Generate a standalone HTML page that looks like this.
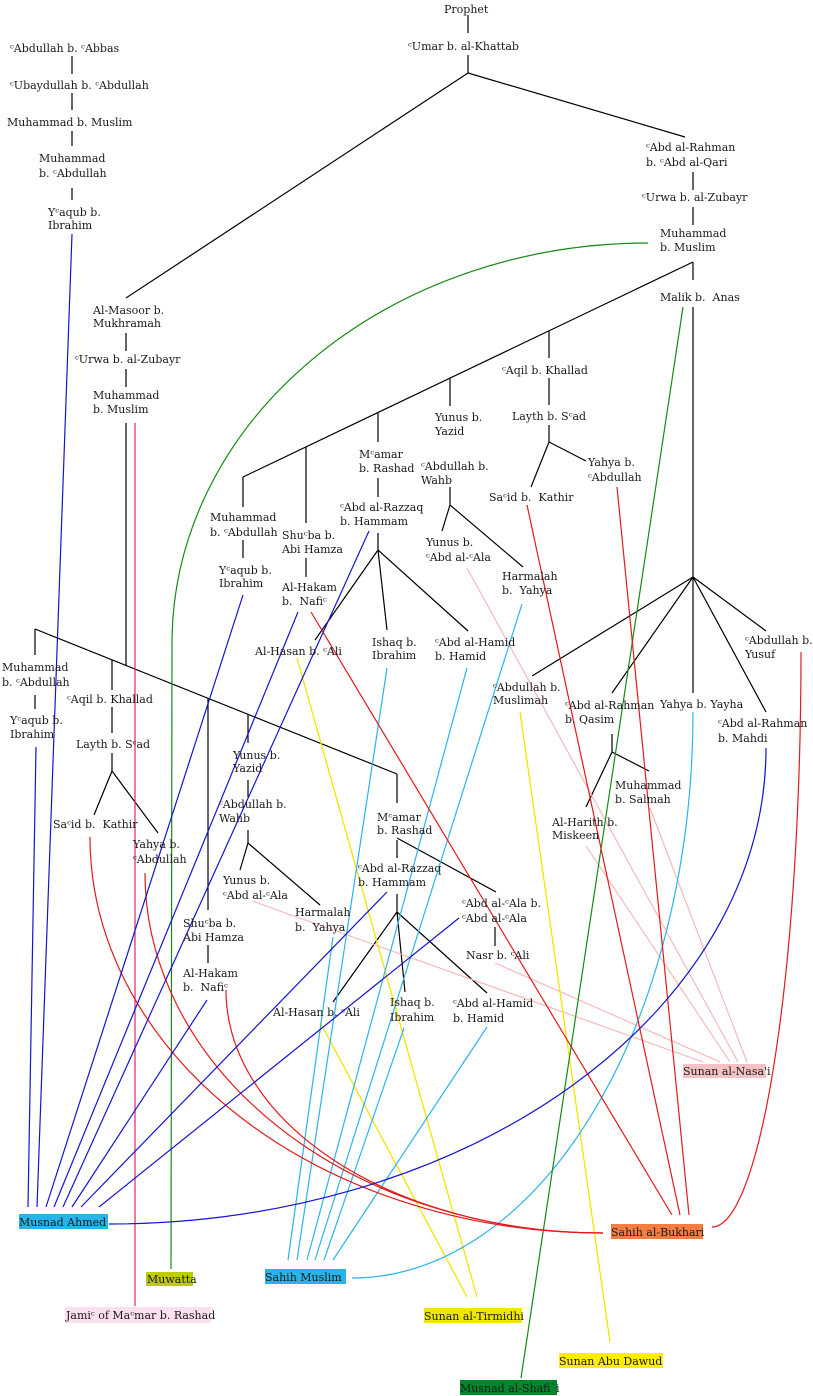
<!DOCTYPE html>
<html><head><meta charset="utf-8"><style>
html,body{margin:0;padding:0;background:#fff;}
svg{display:block;}
text{font-family:"DejaVu Serif","DejaVu Sans","Liberation Serif",serif;font-size:11px;fill:#1a1a1a;}
</style></head><body>
<svg width="813" height="1396" viewBox="0 0 813 1396" xmlns="http://www.w3.org/2000/svg">
<!-- boxes -->
<rect x="19" y="1214" width="89" height="15" fill="#27b4e8"/>
<rect x="146" y="1272" width="47" height="14" fill="#bccc00"/>
<rect x="65" y="1307" width="146" height="16" fill="#fde0ef"/>
<rect x="265" y="1269" width="81" height="15" fill="#27b4e8"/>
<rect x="424" y="1308" width="98" height="15" fill="#eee600"/>
<rect x="559" y="1353" width="104" height="15" fill="#ffee00"/>
<rect x="460" y="1380" width="97" height="15" fill="#00872e"/>
<rect x="611" y="1224" width="92" height="15" fill="#f57d40"/>
<rect x="683" y="1064" width="83" height="14" fill="#f4c2c2"/>

<!-- black tree lines -->
<g stroke="#000" stroke-width="1.2" fill="none">
<line x1="72" y1="56" x2="72" y2="74"/>
<line x1="72" y1="93" x2="72" y2="110"/>
<line x1="72" y1="131" x2="72" y2="146"/>
<line x1="72" y1="188" x2="72" y2="200"/>
<line x1="468" y1="15" x2="468" y2="33"/>
<line x1="468" y1="55" x2="468" y2="73"/>
<line x1="468" y1="73" x2="126" y2="298"/>
<line x1="468" y1="73" x2="685" y2="137"/>
<line x1="693" y1="172" x2="693" y2="190"/>
<line x1="693" y1="207" x2="693" y2="225"/>
<line x1="693" y1="262" x2="693" y2="280"/>
<line x1="693" y1="262" x2="243" y2="477"/>
<line x1="243" y1="477" x2="243" y2="507"/>
<line x1="306" y1="447" x2="306" y2="523"/>
<line x1="378" y1="413" x2="378" y2="442"/>
<line x1="450" y1="378" x2="450" y2="406"/>
<line x1="549" y1="331" x2="549" y2="358"/>
<line x1="549" y1="378" x2="549" y2="405"/>
<line x1="549" y1="425" x2="549" y2="442"/>
<line x1="549" y1="442" x2="531" y2="487"/>
<line x1="549" y1="442" x2="586" y2="461"/>
<line x1="693" y1="307" x2="693" y2="577"/>
<line x1="693" y1="577" x2="532" y2="676"/>
<line x1="693" y1="577" x2="612" y2="693"/>
<line x1="693" y1="577" x2="693" y2="693"/>
<line x1="693" y1="577" x2="766" y2="712"/>
<line x1="693" y1="577" x2="766" y2="631"/>
<line x1="612" y1="734" x2="612" y2="752"/>
<line x1="612" y1="752" x2="586" y2="807"/>
<line x1="612" y1="752" x2="649" y2="771"/>
<line x1="243" y1="540" x2="243" y2="558"/>
<line x1="306" y1="558" x2="306" y2="577"/>
<line x1="378" y1="478" x2="378" y2="497"/>
<line x1="378" y1="533" x2="378" y2="550"/>
<line x1="378" y1="550" x2="315" y2="640"/>
<line x1="378" y1="550" x2="387" y2="630"/>
<line x1="378" y1="550" x2="468" y2="631"/>
<line x1="450" y1="487" x2="450" y2="505"/>
<line x1="450" y1="505" x2="442" y2="531"/>
<line x1="450" y1="505" x2="523" y2="567"/>
<line x1="126" y1="333" x2="126" y2="351"/>
<line x1="126" y1="369" x2="126" y2="387"/>
<line x1="126" y1="423" x2="126" y2="666"/>
<line x1="35" y1="629" x2="397" y2="774"/>
<line x1="35" y1="629" x2="35" y2="655"/>
<line x1="35" y1="695" x2="35" y2="709"/>
<line x1="112" y1="660" x2="112" y2="690"/>
<line x1="112" y1="707" x2="112" y2="733"/>
<line x1="112" y1="753" x2="112" y2="771"/>
<line x1="112" y1="771" x2="94" y2="815"/>
<line x1="112" y1="771" x2="158" y2="833"/>
<line x1="208" y1="698" x2="208" y2="910"/>
<line x1="208" y1="945" x2="208" y2="963"/>
<line x1="248" y1="714" x2="248" y2="743"/>
<line x1="248" y1="780" x2="248" y2="797"/>
<line x1="248" y1="830" x2="248" y2="843"/>
<line x1="248" y1="843" x2="240" y2="870"/>
<line x1="248" y1="843" x2="320" y2="905"/>
<line x1="397" y1="774" x2="397" y2="803"/>
<line x1="397" y1="838" x2="496" y2="892"/>
<line x1="397" y1="840" x2="397" y2="858"/>
<line x1="397" y1="894" x2="397" y2="912"/>
<line x1="397" y1="912" x2="333" y2="1002"/>
<line x1="397" y1="912" x2="405" y2="992"/>
<line x1="397" y1="912" x2="487" y2="993"/>
<line x1="495" y1="927" x2="495" y2="946"/>
</g>

<!-- pink -->
<g stroke="#f5b5b5" stroke-width="1.1" fill="none">
<line x1="252" y1="901" x2="703" y2="1062"/>
<line x1="495" y1="963" x2="720" y2="1062"/>
<line x1="586" y1="846" x2="730" y2="1062"/>
<line x1="467" y1="568" x2="738" y2="1062"/>
<line x1="650" y1="808" x2="747" y2="1062"/>
</g>

<!-- yellow -->
<g stroke="#f5e400" stroke-width="1.3" fill="none">
<line x1="297" y1="658" x2="477" y2="1297"/>
<line x1="320" y1="1022" x2="467" y2="1297"/>
<line x1="520" y1="712" x2="610" y2="1342"/>
</g>

<!-- cyan -->
<g stroke="#2ab4ea" stroke-width="1.2" fill="none">
<line x1="333" y1="937" x2="288" y2="1260"/>
<line x1="387" y1="668" x2="297" y2="1260"/>
<line x1="467" y1="668" x2="307" y2="1260"/>
<line x1="522" y1="604" x2="315" y2="1260"/>
<line x1="404" y1="1028" x2="324" y2="1260"/>
<line x1="487" y1="1027" x2="333" y2="1260"/>
<path d="M693,712 A341,566 0 0 1 352,1278"/>
</g>

<!-- green -->
<g stroke="#168a16" stroke-width="1.2" fill="none">
<line x1="683" y1="307" x2="521" y2="1378"/>
<path d="M648,243 A476,400 0 0 0 172,643 L171,1269"/>
</g>

<!-- magenta -->
<line x1="135" y1="423" x2="135" y2="1306" stroke="#d0287a" stroke-width="1.2"/>

<!-- red -->
<g stroke="#e41a1a" stroke-width="1.2" fill="none">
<line x1="527" y1="505" x2="680" y2="1215"/>
<line x1="617" y1="487" x2="689" y2="1215"/>
<line x1="311" y1="612" x2="672" y2="1215"/>
<path d="M90,837 A513,396 0 0 0 603,1233"/>
<path d="M145,873 A458,360 0 0 0 603,1233"/>
<path d="M226,990 A377,243 0 0 0 603,1233"/>
<path d="M801,652 A89,575 0 0 1 712,1227"/>
</g>

<!-- blue -->
<g stroke="#1414d2" stroke-width="1.2" fill="none">
<line x1="72" y1="234" x2="37" y2="1207"/>
<line x1="36" y1="747" x2="28" y2="1207"/>
<line x1="243" y1="595" x2="46" y2="1207"/>
<line x1="298" y1="612" x2="54" y2="1207"/>
<line x1="369" y1="531" x2="63" y2="1207"/>
<line x1="207" y1="1000" x2="72" y2="1207"/>
<line x1="387" y1="892" x2="81" y2="1207"/>
<line x1="459" y1="918" x2="99" y2="1207"/>
<path d="M766,748 A657,476 0 0 1 109,1224"/>
</g>

<!-- labels -->
<text x="444" y="13">Prophet</text>
<text x="408" y="50">ᶜUmar b. al-Khattab</text>
<text x="10" y="52">ᶜAbdullah b. ᶜAbbas</text>
<text x="10" y="89">ᶜUbaydullah b. ᶜAbdullah</text>
<text x="7" y="126">Muhammad b. Muslim</text>
<text x="39" y="162">Muhammad</text><text x="39" y="177">b. ᶜAbdullah</text>
<text x="48" y="216">Yᶜaqub b.</text><text x="48" y="229">Ibrahim</text>
<text x="646" y="151">ᶜAbd al-Rahman</text><text x="646" y="166">b. ᶜAbd al-Qari</text>
<text x="642" y="201">ᶜUrwa b. al-Zubayr</text>
<text x="660" y="237">Muhammad</text><text x="660" y="251">b. Muslim</text>
<text x="660" y="301">Malik b.&#160; Anas</text>
<text x="93" y="314">Al-Masoor b.</text><text x="93" y="327">Mukhramah</text>
<text x="75" y="363">ᶜUrwa b. al-Zubayr</text>
<text x="93" y="399">Muhammad</text><text x="93" y="413">b. Muslim</text>
<text x="502" y="374">ᶜAqil b. Khallad</text>
<text x="512" y="420">Layth b. Sᶜad</text>
<text x="588" y="466">Yahya b.</text><text x="588" y="481">ᶜAbdullah</text>
<text x="489" y="501">Saᶜid b.&#160; Kathir</text>
<text x="435" y="421">Yunus b.</text><text x="435" y="435">Yazid</text>
<text x="421" y="470">ᶜAbdullah b.</text><text x="421" y="484">Wahb</text>
<text x="359" y="458">Mᶜamar</text><text x="359" y="472">b. Rashad</text>
<text x="340" y="511">ᶜAbd al-Razzaq</text><text x="340" y="525">b. Hammam</text>
<text x="210" y="521">Muhammad</text><text x="210" y="536">b. ᶜAbdullah</text>
<text x="282" y="539">Shuᶜba b.</text><text x="282" y="553">Abi Hamza</text>
<text x="219" y="574">Yᶜaqub b.</text><text x="219" y="587">Ibrahim</text>
<text x="282" y="591">Al-Hakam</text><text x="282" y="605">b.&#160; Nafiᶜ</text>
<text x="426" y="546">Yunus b.</text><text x="426" y="561">ᶜAbd al-ᶜAla</text>
<text x="502" y="580">Harmalah</text><text x="502" y="594">b.&#160; Yahya</text>
<text x="255" y="655">Al-Hasan b. ᶜAli</text>
<text x="372" y="646">Ishaq b.</text><text x="372" y="659">Ibrahim</text>
<text x="435" y="646">ᶜAbd al-Hamid</text><text x="435" y="660">b. Hamid</text>
<text x="745" y="644">ᶜAbdullah b.</text><text x="745" y="658">Yusuf</text>
<text x="493" y="691">ᶜAbdullah b.</text><text x="493" y="704">Muslimah</text>
<text x="565" y="709">ᶜAbd al-Rahman</text><text x="565" y="723">b. Qasim</text>
<text x="660" y="708">Yahya b. Yayha</text>
<text x="718" y="727">ᶜAbd al-Rahman</text><text x="718" y="742">b. Mahdi</text>
<text x="615" y="789">Muhammad</text><text x="615" y="803">b. Salmah</text>
<text x="552" y="826">Al-Harith b.</text><text x="552" y="839">Miskeen</text>
<text x="2" y="671">Muhammad</text><text x="2" y="686">b. ᶜAbdullah</text>
<text x="10" y="724">Yᶜaqub b.</text><text x="10" y="738">Ibrahim</text>
<text x="67" y="703">ᶜAqil b. Khallad</text>
<text x="76" y="748">Layth b. Sᶜad</text>
<text x="53" y="828">Saᶜid b.&#160; Kathir</text>
<text x="133" y="848">Yahya b.</text><text x="133" y="863">ᶜAbdullah</text>
<text x="233" y="759">Yunus b.</text><text x="233" y="772">Yazid</text>
<text x="219" y="808">ᶜAbdullah b.</text><text x="219" y="822">Wahb</text>
<text x="223" y="884">Yunus b.</text><text x="223" y="899">ᶜAbd al-ᶜAla</text>
<text x="295" y="916">Harmalah</text><text x="295" y="931">b.&#160; Yahya</text>
<text x="183" y="927">Shuᶜba b.</text><text x="183" y="941">Abi Hamza</text>
<text x="183" y="977">Al-Hakam</text><text x="183" y="991">b.&#160; Nafiᶜ</text>
<text x="377" y="821">Mᶜamar</text><text x="377" y="834">b. Rashad</text>
<text x="358" y="872">ᶜAbd al-Razzaq</text><text x="358" y="886">b. Hammam</text>
<text x="462" y="907">ᶜAbd al-ᶜAla b.</text><text x="462" y="922">ᶜAbd al-ᶜAla</text>
<text x="466" y="959">Nasr b. ᶜAli</text>
<text x="273" y="1016">Al-Hasan b. ᶜAli</text>
<text x="390" y="1006">Ishaq b.</text><text x="390" y="1021">Ibrahim</text>
<text x="453" y="1007">ᶜAbd al-Hamid</text><text x="453" y="1022">b. Hamid</text>

<text x="19" y="1226">Musnad Ahmed</text>
<text x="147" y="1283">Muwatta</text>
<text x="66" y="1319">Jamiᶜ of Maᶜmar b. Rashad</text>
<text x="265" y="1281">Sahih Muslim</text>
<text x="424" y="1320">Sunan al-Tirmidhi</text>
<text x="559" y="1365">Sunan Abu Dawud</text>
<text x="460" y="1392">Musnad al-Shafi`i</text>
<text x="611" y="1236">Sahih al-Bukhari</text>
<text x="683" y="1075">Sunan al-Nasa'i</text>
</svg>
</body></html>
